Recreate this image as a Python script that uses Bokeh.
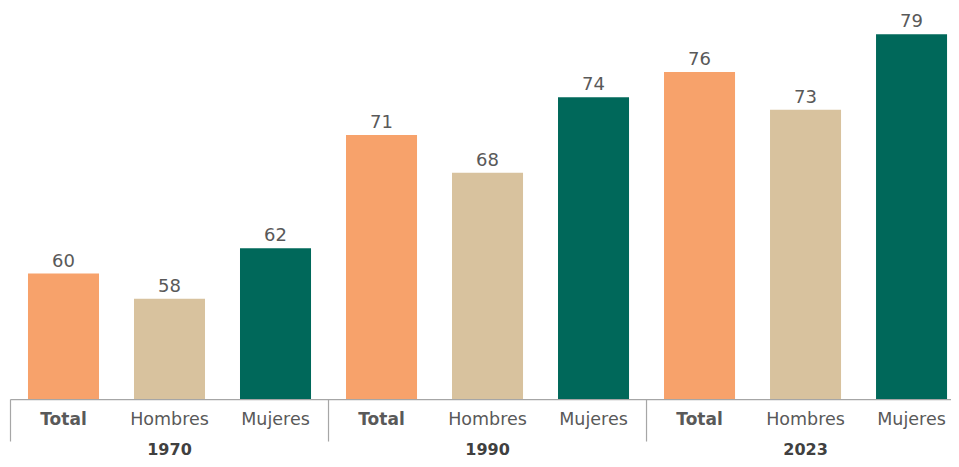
import math
from bokeh.plotting import figure
from bokeh.models import ColumnDataSource, LabelSet, Range1d
from bokeh.core.properties import value
from bokeh.embed import file_html
from bokeh.resources import INLINE

years = ["1970", "1990", "2023"]
groups = ["Total", "Hombres", "Mujeres"]
total = [60, 71, 76]
hombres = [58, 68, 73]
mujeres = [62, 74, 79]
baseline = 50

colors = {"Total": "#F7A26B", "Hombres": "#D8C29E", "Mujeres": "#00685A"}
FONT = value("DejaVu Sans")
AXIS_COLOR = "#A6A6A6"

series = {"Total": total, "Hombres": hombres, "Mujeres": mujeres}
xs, vals, cats, cols = [], [], [], []
for yi, yr in enumerate(years):
    for gi, g in enumerate(groups):
        xs.append(yi * len(groups) + gi + 0.5)
        vals.append(series[g][yi])
        cats.append(g)
        cols.append(colors[g])

x_range = Range1d(-0.0943, 8.877)
y_range = Range1d(45.24, 81.67)

p = figure(width=951, height=459, x_range=x_range, y_range=y_range,
           output_backend="svg", toolbar_location=None,
           x_axis_type=None, y_axis_type=None,
           min_border_left=0, min_border_right=0, min_border_top=0, min_border_bottom=0,
           outline_line_color=None, background_fill_color="white", border_fill_color="white")
p.xgrid.visible = False
p.ygrid.visible = False

src = ColumnDataSource(dict(x=xs, top=vals, color=cols, text=[str(v) for v in vals],
                            cat=cats, base=[baseline] * len(xs),
                            style=["bold" if c == "Total" else "normal" for c in cats],
                            size=["17px" if c == "Total" else "17.5px" for c in cats]))

p.vbar(x="x", top="top", bottom=baseline, width=0.67, fill_color="color", line_color=None, source=src)

# category axis line and group separators
bounds = [i * len(groups) for i in range(len(years) + 1)]
p.segment(x0=[bounds[0]], y0=[baseline], x1=[bounds[-1]], y1=[baseline],
          line_color=AXIS_COLOR, line_width=1.2)
p.ray(x=bounds, y=[baseline] * len(bounds), length=42, length_units="screen",
      angle=-math.pi / 2, line_color=AXIS_COLOR, line_width=1.2)

p.add_layout(LabelSet(x="x", y="top", text="text", source=src, text_align="center",
                      text_baseline="alphabetic", y_offset=7, text_font=FONT,
                      text_font_size="18px", text_color="#595959"))

p.add_layout(LabelSet(x="x", y="base", text="cat", source=src, text_align="center",
                      text_baseline="alphabetic", y_offset=-25, text_font=FONT,
                      text_font_size="size", text_color="#595959", text_font_style="style"))

ysrc = ColumnDataSource(dict(x=[yi * len(groups) + len(groups) / 2 for yi in range(len(years))],
                             y=[baseline] * len(years), text=years))
p.add_layout(LabelSet(x="x", y="y", text="text", source=ysrc, text_align="center",
                      text_baseline="alphabetic", y_offset=-55, text_font=FONT,
                      text_font_size="16px", text_color="#404040", text_font_style="bold"))

open("out.html", "w").write(file_html(p, INLINE))
